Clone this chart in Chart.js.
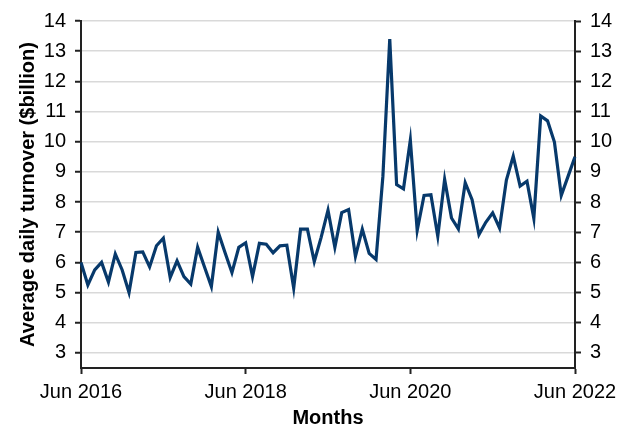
<!DOCTYPE html>
<html>
<head>
<meta charset="utf-8">
<script src="https://cdn.jsdelivr.net/npm/chart.js@4"></script>
<style>
  body { margin: 0; background: #fff; }
  #wrap { width: 633px; height: 444px; }
</style>
</head>
<body>
<div id="wrap"><canvas id="lineChart" width="633" height="444"></canvas></div>
<script>
// monthly turnover, Jun 2016 .. Jun 2022
var monthNames = ["Jan","Feb","Mar","Apr","May","Jun","Jul","Aug","Sep","Oct","Nov","Dec"];
var months = [];
for (var i = 0; i < 73; i++) {
    var m = (5 + i) % 12;
    var y = 2016 + Math.floor((5 + i) / 12);
    months.push(monthNames[m] + " " + y);
}
var turnover = [
    6.0, 5.25, 5.75, 6.0, 5.35, 6.28, 5.75, 5.0, 6.33, 6.35, 5.85, 6.55,
    6.8, 5.5, 6.05, 5.53, 5.28, 6.5, 5.85, 5.2, 7.0, 6.32, 5.66, 6.5,
    6.65, 5.53, 6.63, 6.6, 6.32, 6.55, 6.57, 5.15, 7.1, 7.1, 6.03, 6.83,
    7.73, 6.5, 7.65, 7.75, 6.2, 7.1, 6.3, 6.1, 8.85, 13.4, 8.58, 8.44,
    10.05, 7.06, 8.22, 8.24, 6.87, 8.75, 7.47, 7.11, 8.64, 8.08, 6.92, 7.33,
    7.64, 7.14, 8.73, 9.52, 8.53, 8.69, 7.46, 10.85, 10.69, 9.99, 8.22, 8.86,
    9.5
];
var xTickLabels = ["Jun 2016", "Jun 2018", "Jun 2020", "Jun 2022"];
var yTicks = [3, 4, 5, 6, 7, 8, 9, 10, 11, 12, 13, 14];

var tickFont = { family: "'Liberation Sans', Arial, sans-serif", size: 20 };
var titleFont = { family: "'Liberation Sans', Arial, sans-serif", size: 20, weight: "bold" };

function setYTicks(scale) {
    scale.ticks = yTicks.map(function (v) { return { value: v }; });
}

var ctx = document.getElementById("lineChart").getContext("2d");
var myLineChart = new Chart(ctx, {
    type: "line",
    data: {
        labels: months,
        datasets: [{
            data: turnover,
            borderColor: "#07396b",
            borderWidth: 3.2,
            pointRadius: 0,
            tension: 0,
            fill: false
        }]
    },
    options: {
        responsive: false,
        animation: false,
        devicePixelRatio: 1,
        layout: { padding: { top: 20, left: 16, right: 0, bottom: 14 } },
        plugins: { legend: { display: false }, tooltip: { enabled: false } },
        scales: {
            x: {
                type: "category",
                offset: false,
                afterBuildTicks: function (scale) {
                    scale.ticks = scale.ticks.filter(function (t) {
                        return xTickLabels.indexOf(months[t.value]) >= 0;
                    });
                },
                afterFit: function (scale) { scale.height = 62; },
                ticks: {
                    autoSkip: false,
                    maxRotation: 0,
                    color: "#000",
                    font: tickFont,
                    padding: 6,
                    callback: function (value) { return months[value]; }
                },
                grid: {
                    drawOnChartArea: false,
                    tickLength: 6,
                    tickColor: "#222",
                    tickWidth: 2
                },
                border: { color: "#222", width: 2 },
                title: {
                    display: true,
                    text: "Months",
                    color: "#000",
                    font: titleFont,
                    padding: { top: 0, bottom: 0 }
                }
            },
            y: {
                position: "left",
                min: 2.5,
                max: 14,
                afterBuildTicks: setYTicks,
                afterFit: function (scale) { scale.width = 65; },
                ticks: { color: "#000", font: tickFont, padding: 9 },
                grid: {
                    color: "#d9d9d9",
                    lineWidth: 1.5,
                    tickLength: 6,
                    tickColor: "#222",
                    tickWidth: 2
                },
                border: { color: "#222", width: 2 },
                title: {
                    display: true,
                    text: "Average daily turnover ($billion)",
                    color: "#000",
                    font: titleFont,
                    padding: { top: 0, bottom: 0 }
                }
            },
            y2: {
                position: "right",
                min: 2.5,
                max: 14,
                afterBuildTicks: setYTicks,
                afterFit: function (scale) { scale.width = 58; },
                ticks: { color: "#000", font: tickFont, padding: 9 },
                grid: {
                    drawOnChartArea: false,
                    tickLength: 6,
                    tickColor: "#222",
                    tickWidth: 2
                },
                border: { color: "#222", width: 2 }
            }
        }
    }
});
</script>
</body>
</html>
